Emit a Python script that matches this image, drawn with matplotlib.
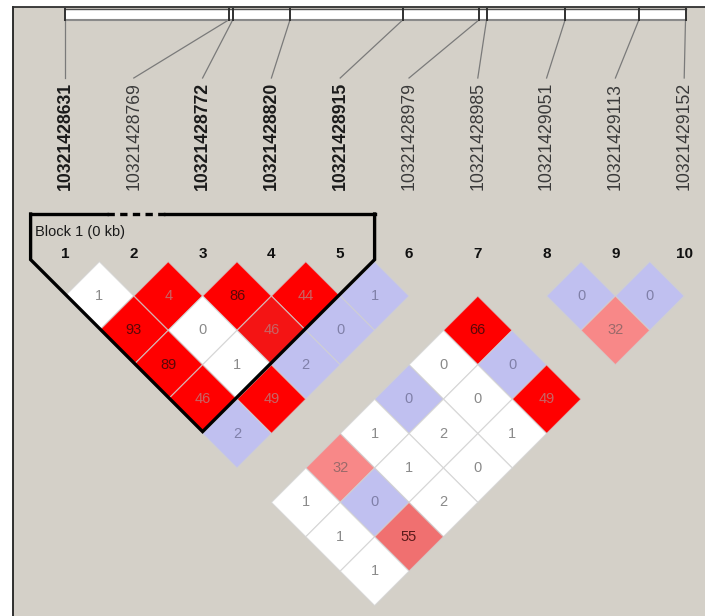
import matplotlib
matplotlib.use("Agg")
import matplotlib.pyplot as plt
from matplotlib.patches import Polygon, Rectangle

plt.rcParams['font.family'] = ['Liberation Sans', 'DejaVu Sans']

# ---------------- data ----------------
marker_names = ['10321428631', '10321428769', '10321428772', '10321428820',
                '10321428915', '10321428979', '10321428985', '10321429051',
                '10321429113', '10321429152']
marker_numbers = [str(k) for k in range(1, 11)]
bold_markers = [1, 3, 4, 5]          # bold names (1-based)
block_markers = [1, 2, 3, 4, 5]      # Block 1
block_label = 'Block 1 (0 kb)'
dashed_markers = [2]                 # marker shown dashed over the block

# pairwise LD cells: first marker, second marker
pair_i = [1, 2, 3, 4, 5, 8, 9,
          1, 2, 3, 4, 6, 8,
          1, 2, 3, 5, 6,
          1, 2, 4, 5, 6,
          1, 3, 4, 5,
          2, 3, 4,
          1, 2, 3,
          1, 2,
          1]
pair_j = [2, 3, 4, 5, 6, 9, 10,
          3, 4, 5, 6, 8, 10,
          4, 5, 6, 8, 9,
          5, 6, 8, 9, 10,
          6, 8, 9, 10,
          8, 9, 10,
          8, 9, 10,
          9, 10,
          10]
pair_value = [1, 4, 86, 44, 1, 0, 0,
              93, 0, 46, 0, 66, 32,
              89, 1, 2, 0, 0,
              46, 49, 0, 0, 49,
              2, 1, 2, 1,
              32, 1, 0,
              1, 0, 2,
              1, 55,
              1]
# colour class: W white, B blue, R red, r slightly lighter red, P pink, Q deeper pink
pair_class = ['W', 'R', 'R', 'R', 'B', 'B', 'B',
              'R', 'W', 'r', 'B', 'R', 'P',
              'R', 'W', 'B', 'W', 'B',
              'R', 'R', 'B', 'W', 'R',
              'B', 'W', 'W', 'W',
              'P', 'W', 'W',
              'W', 'B', 'W',
              'W', 'Q',
              'W']

# ---------------- styling ----------------
fill = {'W': '#ffffff', 'B': '#c0c0f0', 'R': '#ff0000', 'r': '#f41414',
        'P': '#f88888', 'Q': '#f07070'}
BG = '#d4d0c8'

W_PX, H_PX = 705, 616
fig = plt.figure(figsize=(W_PX / 100, H_PX / 100), dpi=100)
fig.patch.set_facecolor('white')
ax = fig.add_axes([0, 0, 1, 1])
ax.set_xlim(0, W_PX)
ax.set_ylim(H_PX, 0)
ax.axis('off')

# panel background and frame
ax.add_patch(Rectangle((12.5, 7), W_PX - 12.5, H_PX - 7, facecolor=BG,
                       edgecolor='none', zorder=0))
ax.plot([12.5, 12.5], [7, H_PX], color='#202020', lw=1.3, zorder=1)
ax.plot([12.5, W_PX], [7, 7], color='#303030', lw=1.3, zorder=1)

# marker layout
x0, step = 65.0, 68.8
n = len(marker_names)
mx = [x0 + step * k for k in range(n)]
half = step / 2
row1_y = 296.0

# physical map bar
pos = [int(s) for s in marker_names]
p0, p1 = pos[0], pos[-1]
map_x0, map_x1 = mx[0], 685.5
def map_x(p):
    return map_x0 + (p - p0) / (p1 - p0) * (map_x1 - map_x0)

bar_top, bar_bot = 8.5, 19.5
ax.add_patch(Rectangle((map_x0, bar_top), map_x1 - map_x0, bar_bot - bar_top,
                       facecolor='white', edgecolor='none', zorder=2))
ax.plot([map_x0, map_x1], [bar_bot, bar_bot], color='#8a8a8a', lw=1.5, zorder=3)
ax.plot([map_x0, map_x1], [bar_top, bar_top], color='#505050', lw=1.0, zorder=3)
for k in range(n):
    px = map_x(pos[k])
    ax.plot([px, px], [bar_top, bar_bot], color='#303030', lw=1.4, zorder=4)
    ax.plot([px, mx[k]], [bar_bot, 78], color='#7a7a7a', lw=0.9, zorder=2)
    ax.text(mx[k], 190, marker_names[k], rotation=90, ha='center', va='bottom',
            fontsize=12.7, color='#1a1a1a' if (k + 1) in bold_markers else '#3a3a3a',
            fontweight='bold' if (k + 1) in bold_markers else 'normal', zorder=5)
    ax.text(mx[k], 254, marker_numbers[k], ha='center', va='center',
            fontsize=11, fontweight='bold', color='#111111', zorder=5)

# LD cells
text_col = {'W': '#8a8a8a', 'B': '#8080a8', 'R': '#c86464', 'r': '#c86464',
            'P': '#9a6a6a', 'Q': '#5a1a1a'}
for i, j, v, c in zip(pair_i, pair_j, pair_value, pair_class):
    cx = (mx[i - 1] + mx[j - 1]) / 2
    cy = row1_y + (j - i - 1) * half
    verts = [(cx, cy - half), (cx + half, cy), (cx, cy + half), (cx - half, cy)]
    ax.add_patch(Polygon(verts, closed=True, facecolor=fill[c],
                         edgecolor=(0.82, 0.82, 0.82, 0.7), lw=0.9, zorder=6))
    tc = text_col[c]
    if c in ('R', 'r') and v > 50:
        tc = '#5a0808'
    ax.text(cx, cy, str(v), ha='center', va='center', fontsize=10.5, color=tc,
            zorder=7)

# block outline
b0, b1 = block_markers[0] - 1, block_markers[-1] - 1
top_y = 214
left_x = mx[b0] - half
right_x = mx[b1] + half
corner_y = row1_y - half - 2
bot_x = (mx[b0] + mx[b1]) / 2
bot_y = corner_y + (bot_x - left_x)
lw_b = 2.4
ax.plot([left_x, left_x, bot_x, right_x, right_x],
        [top_y, corner_y, bot_y, corner_y, top_y], color='black', lw=lw_b,
        solid_joinstyle='miter', zorder=8)
d = dashed_markers[0] - 1
dash_l, dash_r = mx[d] - 27, mx[d] + 31
ax.plot([left_x, dash_l], [top_y, top_y], color='black', lw=lw_b, zorder=8)
ax.plot([dash_r, right_x], [top_y, top_y], color='black', lw=lw_b, zorder=8)
ax.plot([dash_l, dash_r], [top_y, top_y], color='black', lw=lw_b,
        linestyle=(0, (2.2, 1.6)), zorder=8)
ax.text(left_x + 4, 232, block_label, ha='left', va='center', fontsize=10.5,
        color='#1a1a1a', zorder=8)

fig.savefig('out.png', dpi=100, facecolor=fig.get_facecolor())
